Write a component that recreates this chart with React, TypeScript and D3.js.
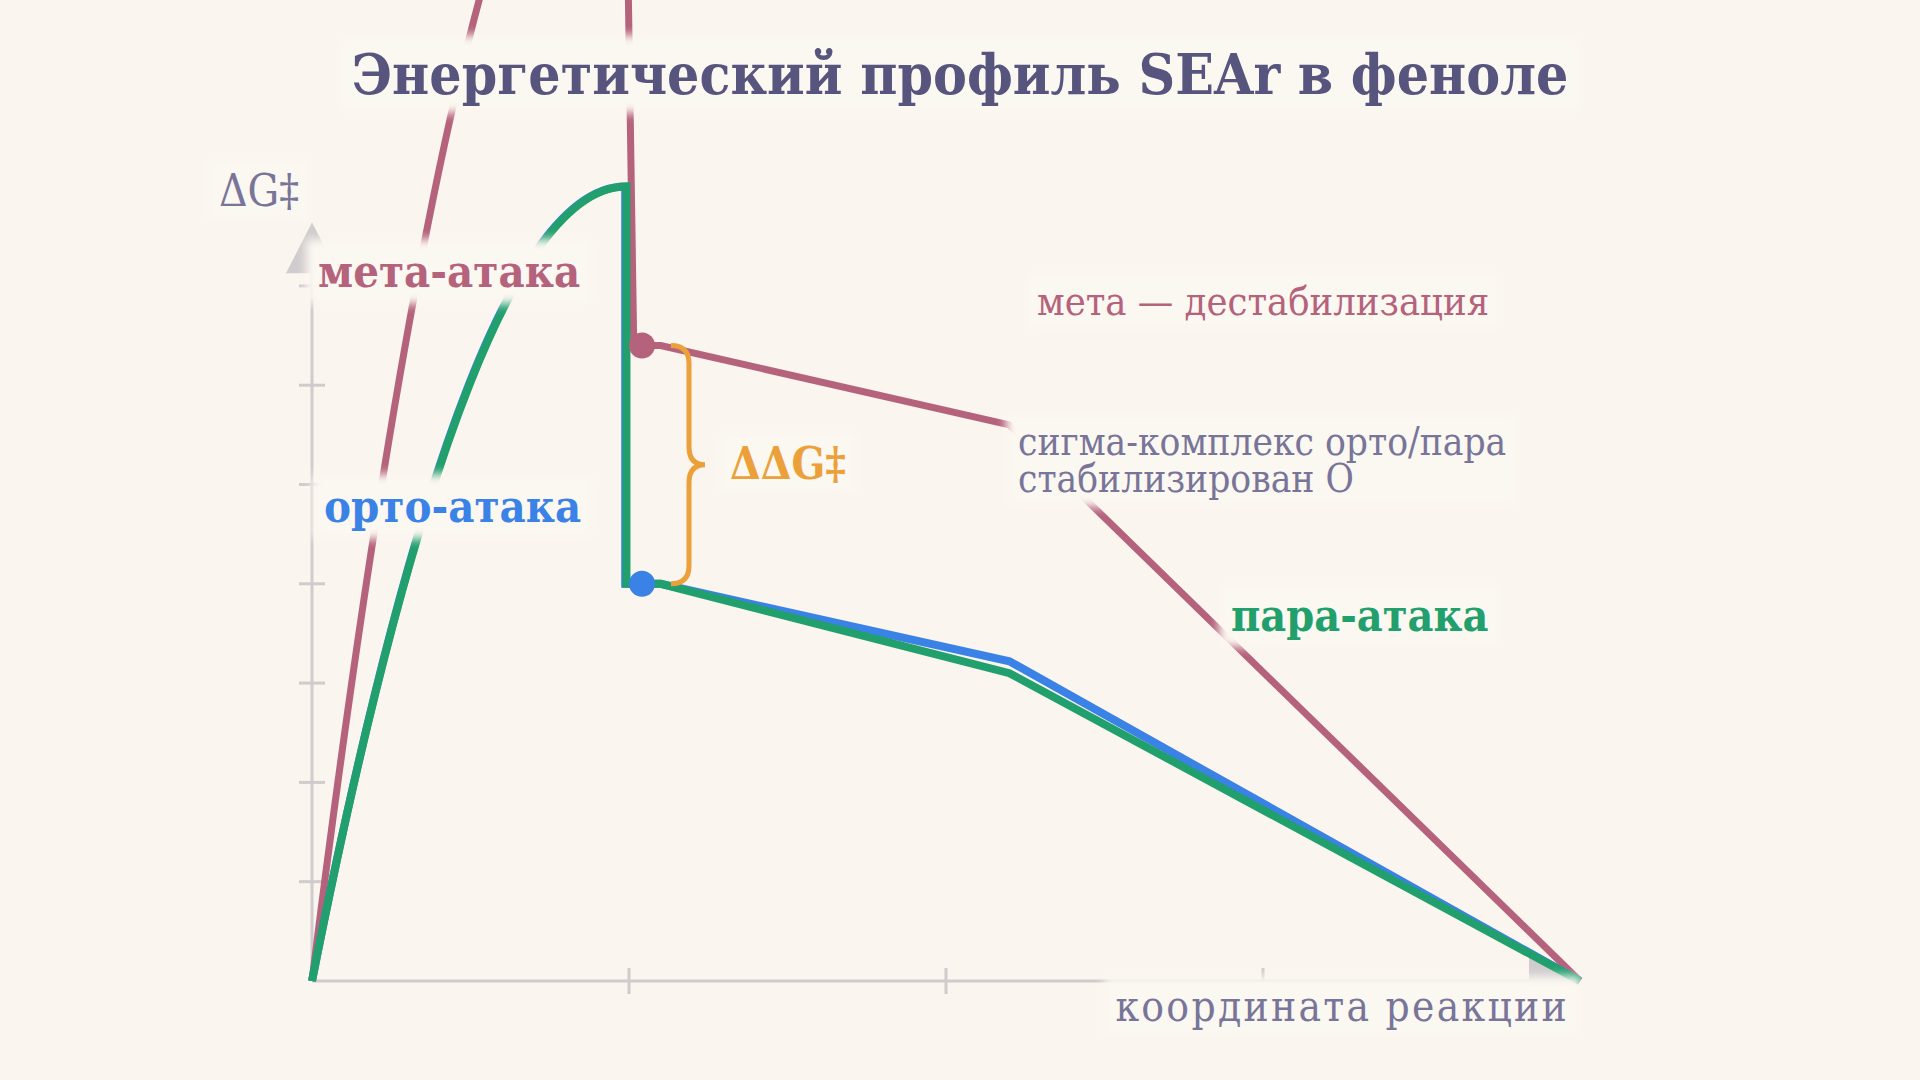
import React, { useEffect, useRef } from 'react';
import * as d3 from 'd3';

const W = 1920;
const H = 1080;

// reaction coordinate runs 0..4, ΔG‡ in kcal/mol (one tick = 5)
const series = ['meta', 'ortho', 'para'];
const seriesColor = ['#b5627c', '#3b82e6', '#21a06d'];
const seriesWidth = [7, 8, 8];
const peakX = [0.985, 0.988, 0.992];
const peakG = [63, 40, 40];
const dropX = [1.015, 0.988, 0.992];
const interX = [1.041, 1.041, 1.041];
const interG = [32, 20, 20];
const shelfX = [1.1, 1.1, 1.1];
const kinkX = [2.2, 2.2, 2.2];
const kinkG = [28, 16.1, 15.5];
const endX = [4, 4, 4];
const endG = [0, 0, 0];
const dotSeries = [0, 1];

const yTicks = [5, 10, 15, 20, 25, 30, 35];
const xTicks = [1, 2, 3];

const sigmaNote = ['сигма-комплекс орто/пара', 'стабилизирован O'];

const BG = '#faf5ee';
const HALO = '#fbf7f1';
const AXIS = '#d0cbcc';
const MUTED = '#787599';
const ORANGE = '#eba03a';
const FONT = "'DejaVu Serif Condensed', 'DejaVu Serif', serif";

const EnergyProfile: React.FC = () => {
  const svgRef = useRef<SVGSVGElement>(null);

  useEffect(() => {
    if (!svgRef.current) return;
    const svg = d3.select(svgRef.current);
    svg.selectAll('*').remove();

    const margin = { top: 186.6, right: 340, bottom: 99, left: 312 };

    const x = d3.scaleLinear().domain([0, 4]).range([margin.left, W - margin.right]);
    const y = d3.scaleLinear().domain([0, 40]).range([H - margin.bottom, margin.top]);

    const defs = svg.append('defs');
    defs.append('filter')
      .attr('id', 'halo')
      .attr('x', '-0.3').attr('y', '-0.8')
      .attr('width', '1.6').attr('height', '2.6')
      .append('feGaussianBlur')
      .attr('stdDeviation', 5);

    svg.append('rect').attr('width', W).attr('height', H).attr('fill', BG);

    // axes
    const ax = svg.append('g');
    const arrowLen = 51;
    const arrowHalf = 26;
    const yTip = y(38.2);
    const xTip = x(4);
    ax.append('line')
      .attr('x1', x(0)).attr('y1', y(0))
      .attr('x2', x(0)).attr('y2', yTip + arrowLen)
      .attr('stroke', AXIS).attr('stroke-width', 3);
    ax.append('line')
      .attr('x1', x(0)).attr('y1', y(0))
      .attr('x2', xTip - arrowLen).attr('y2', y(0))
      .attr('stroke', AXIS).attr('stroke-width', 3);
    ax.append('path')
      .attr('d', `M${x(0)},${yTip}L${x(0) - arrowHalf},${yTip + arrowLen}L${x(0) + arrowHalf},${yTip + arrowLen}Z`)
      .attr('fill', AXIS);
    ax.append('path')
      .attr('d', `M${xTip},${y(0)}L${xTip - arrowLen},${y(0) - arrowHalf}L${xTip - arrowLen},${y(0) + arrowHalf}Z`)
      .attr('fill', AXIS);
    ax.selectAll('.ytick')
      .data(yTicks)
      .enter()
      .append('line')
      .attr('x1', x(0) - 13).attr('x2', x(0) + 13)
      .attr('y1', d => y(d)).attr('y2', d => y(d))
      .attr('stroke', AXIS).attr('stroke-width', 3);
    ax.selectAll('.xtick')
      .data(xTicks)
      .enter()
      .append('line')
      .attr('x1', d => x(d)).attr('x2', d => x(d))
      .attr('y1', y(0) - 13).attr('y2', y(0) + 13)
      .attr('stroke', AXIS).attr('stroke-width', 3);

    // energy profiles: rise to TS, drop to the sigma complex, then down to products
    const profile = (i: number) => {
      const p = d3.path();
      p.moveTo(x(0), y(0));
      p.quadraticCurveTo(x(peakX[i] / 2), y(peakG[i]), x(peakX[i]), y(peakG[i]));
      p.lineTo(x(dropX[i]), y(interG[i]));
      p.lineTo(x(interX[i]), y(interG[i]));
      p.lineTo(x(shelfX[i]), y(interG[i]));
      p.lineTo(x(kinkX[i]), y(kinkG[i]));
      p.lineTo(x(endX[i]), y(endG[i]));
      return p.toString();
    };

    svg.append('g')
      .selectAll('path')
      .data(series)
      .enter()
      .append('path')
      .attr('d', (d, i) => profile(i))
      .attr('fill', 'none')
      .attr('stroke', (d, i) => seriesColor[i])
      .attr('stroke-width', (d, i) => seriesWidth[i]);

    svg.append('g')
      .selectAll('circle')
      .data(dotSeries)
      .enter()
      .append('circle')
      .attr('cx', i => x(interX[i]))
      .attr('cy', i => y(interG[i]))
      .attr('r', 13)
      .attr('fill', i => seriesColor[i]);

    // brace between the two intermediates
    const bx = x(interX[0]) + 47;
    const bx0 = bx - 18;
    const tip = bx + 16;
    const yt = y(interG[0]);
    const yb = y(interG[1]);
    const ym = (yt + yb) / 2;
    const brace = d3.path();
    brace.moveTo(bx0, yt);
    brace.quadraticCurveTo(bx, yt, bx, yt + 18);
    brace.lineTo(bx, ym - 18);
    brace.quadraticCurveTo(bx, ym, tip, ym);
    brace.quadraticCurveTo(bx, ym, bx, ym + 18);
    brace.lineTo(bx, yb - 18);
    brace.quadraticCurveTo(bx, yb, bx0, yb);
    svg.append('path')
      .attr('d', brace.toString())
      .attr('fill', 'none')
      .attr('stroke', ORANGE)
      .attr('stroke-width', 5);

    // labels with a soft background (halos kept under all texts)
    const halos = svg.append('g');
    const labels = svg.append('g');
    const label = (
      text: string | string[], lx: number, ly: number, size: number, color: string,
      weight = 'normal', anchor = 'start', spacing = 0, lineGap = 37
    ) => {
      const t = labels.append('text')
        .attr('x', lx).attr('y', ly)
        .attr('text-anchor', anchor)
        .style('font-family', FONT)
        .style('font-size', `${size}px`)
        .style('font-weight', weight)
        .style('letter-spacing', `${spacing}px`)
        .attr('fill', color);
      const lines = Array.isArray(text) ? text : [text];
      t.selectAll('tspan')
        .data(lines)
        .enter()
        .append('tspan')
        .attr('x', lx)
        .attr('dy', (d, i) => (i === 0 ? 0 : lineGap))
        .text(d => d);
      const bb = (t.node() as SVGTextElement).getBBox();
      halos.append('rect')
        .attr('x', bb.x - 12).attr('y', bb.y - 6)
        .attr('width', bb.width + 24).attr('height', bb.height + 12)
        .attr('fill', HALO)
        .attr('filter', 'url(#halo)');
    };

    label('Энергетический профиль SEAr в феноле', W / 2, 94, 56.5, '#57547e', 'bold', 'middle');
    label('ΔG‡', 299, 206, 44, MUTED, 'normal', 'end');
    label('мета-атака', 318, 287, 45, seriesColor[0], 'bold');
    label('орто-атака', 324, 522, 45, seriesColor[1], 'bold');
    label('пара-атака', 1231, 631, 44.5, seriesColor[2], 'bold');
    label('ΔΔG‡', tip + 25, ym + 14, 44, ORANGE, 'bold');
    label('мета — дестабилизация', 1037, 315, 39.5, seriesColor[0]);
    label(sigmaNote, 1018, 455, 38.5, MUTED);
    label('координата реакции', 1569, 1021, 42, MUTED, 'normal', 'end', 2.3);
  }, []);

  return (
    <svg
      ref={svgRef}
      width={W}
      height={H}
      style={{ position: 'fixed', left: 0, top: 0, display: 'block' }}
    />
  );
};

export default function App() {
  return <EnergyProfile />;
}
